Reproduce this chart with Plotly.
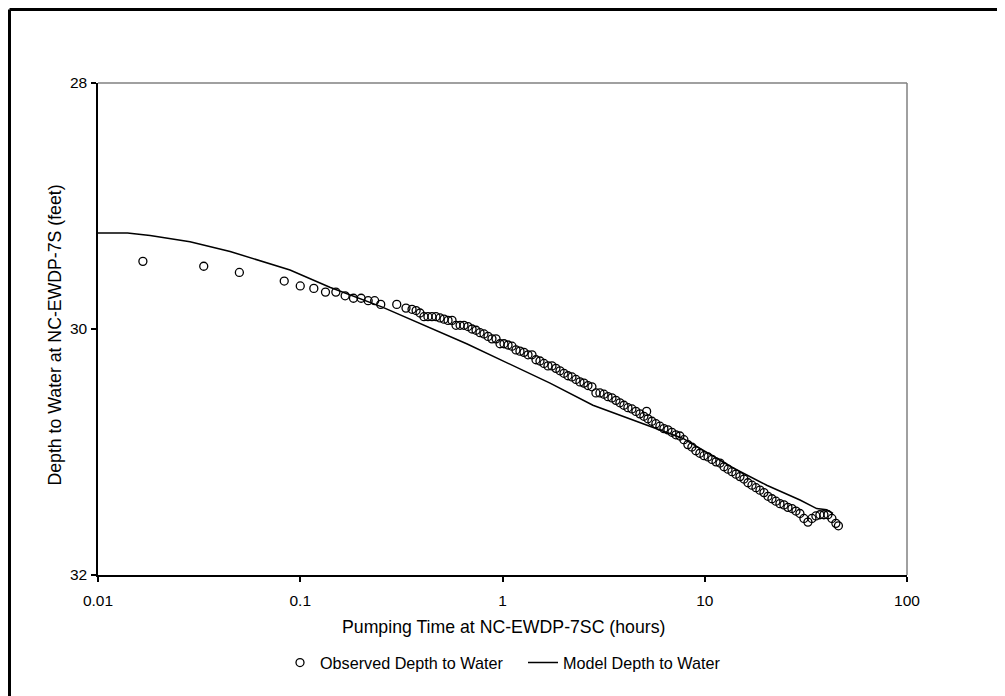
import plotly.graph_objects as go

# Observed depth to water (hours, feet)
obs_time = [0.01667, 0.03333, 0.05, 0.08333, 0.1, 0.1167, 0.1333, 0.15, 0.1667, 0.1833,
            0.2, 0.2167, 0.2333, 0.25, 0.3, 0.3333,
            0.357, 0.374, 0.391, 0.409, 0.428, 0.448, 0.469, 0.491, 0.514, 0.538,
            0.563, 0.589, 0.617, 0.645, 0.675, 0.707, 0.740, 0.774, 0.810, 0.848,
            0.887, 0.929, 0.972, 1.017, 1.065, 1.114, 1.166, 1.220, 1.277, 1.337,
            1.399, 1.464, 1.532, 1.604, 1.678, 1.756, 1.838, 1.924, 2.013, 2.107,
            2.205, 2.308, 2.415, 2.528, 2.645, 2.768, 2.897, 3.032, 3.173, 3.321,
            3.476, 3.638, 3.807, 3.984, 4.170, 4.364, 4.567, 4.780, 5.002, 5.16, 5.235,
            5.479, 5.734, 6.001, 6.280, 6.573, 6.879, 7.199, 7.534, 7.885, 8.252,
            8.636, 9.038, 9.459, 9.915, 10.38, 10.86, 11.37, 11.90, 12.45, 13.03,
            13.64, 14.27, 14.93, 15.63, 16.36, 17.12, 17.92, 18.75, 19.62, 20.54,
            21.49, 22.49, 23.54, 24.64, 25.78, 26.98, 28.24, 29.55, 30.93, 32.37,
            33.88, 35.45, 37.10, 38.83, 40.64, 42.53, 44.51, 45.8]
obs_depth = [29.45, 29.49, 29.54, 29.61, 29.65, 29.67, 29.70, 29.70, 29.73, 29.75,
             29.75, 29.77, 29.77, 29.80, 29.80, 29.83,
             29.84, 29.85, 29.87, 29.90, 29.90, 29.90, 29.90, 29.91, 29.92, 29.93,
             29.93, 29.97, 29.97, 29.97, 29.98, 30.00, 30.01, 30.03, 30.04, 30.06,
             30.08, 30.08, 30.12, 30.12, 30.13, 30.14, 30.17, 30.18, 30.19, 30.21,
             30.21, 30.25, 30.26, 30.28, 30.30, 30.30, 30.32, 30.34, 30.36, 30.38,
             30.39, 30.41, 30.43, 30.44, 30.46, 30.47, 30.52, 30.52, 30.53, 30.55,
             30.56, 30.58, 30.60, 30.62, 30.64, 30.65, 30.67, 30.69, 30.71, 30.67, 30.73,
             30.75, 30.77, 30.79, 30.81, 30.82, 30.84, 30.86, 30.87, 30.90, 30.94,
             30.96, 30.99, 31.01, 31.03, 31.04, 31.06, 31.08, 31.09, 31.12, 31.14,
             31.16, 31.18, 31.20, 31.22, 31.25, 31.27, 31.29, 31.31, 31.33, 31.36,
             31.38, 31.40, 31.42, 31.43, 31.45, 31.46, 31.48, 31.50, 31.54, 31.57,
             31.54, 31.52, 31.51, 31.51, 31.51, 31.54, 31.58, 31.60]

# Model depth to water
model_time = [0.01, 0.014, 0.0181, 0.0285, 0.045, 0.089, 0.140, 0.253, 0.665, 1.0,
              1.718, 2.80, 5.18, 7.81, 13.84, 20.25, 29.58, 35.77, 40.09, 43.06]
model_depth = [29.22, 29.22, 29.24, 29.29, 29.37, 29.52, 29.66, 29.82, 30.12, 30.26,
               30.44, 30.62, 30.78, 30.89, 31.13, 31.27, 31.39, 31.46, 31.47, 31.50]

x_ticks = [0.01, 0.1, 1, 10, 100]
x_tick_labels = ["0.01", "0.1", "1", "10", "100"]
y_ticks = [28, 30, 32]

FONT = "Liberation Sans, Arial, sans-serif"

fig = go.Figure()
fig.add_trace(go.Scatter(
    x=obs_time, y=obs_depth, mode="markers", name="Observed Depth to Water",
    marker=dict(symbol="circle-open", size=8, color="black", line=dict(width=1.3, color="black")),
))
fig.add_trace(go.Scatter(
    x=model_time, y=model_depth, mode="lines", name="Model Depth to Water",
    line=dict(color="black", width=1.5),
))

# page has an 8px body margin; figure coordinates = screen - 8
W, H = 997, 688
L, T = 90, 75
R = W - 899
B = H - 567
pw, ph = W - L - R, H - T - B


def px_x(p):
    return (p - L) / pw


def px_y(p):
    return (H - B - p) / ph


shapes = [
    dict(type="line", xref="paper", yref="paper", x0=0, x1=1, y0=1, y1=1,
         line=dict(color="#808080", width=1.5)),
    dict(type="line", xref="paper", yref="paper", x0=1, x1=1, y0=0, y1=1,
         line=dict(color="#808080", width=1.5)),
    dict(type="line", xref="paper", yref="paper", x0=px_x(1.5), x1=px_x(W + 5), y0=px_y(1.5), y1=px_y(1.5),
         line=dict(color="black", width=3)),
    dict(type="line", xref="paper", yref="paper", x0=px_x(1.5), x1=px_x(1.5), y0=px_y(1.5), y1=px_y(H + 5),
         line=dict(color="black", width=3)),
]

annotations = [
    dict(text="Depth to Water at NC-EWDP-7S (feet)", xref="paper", yref="paper",
         x=px_x(46), y=px_y(327.5), xanchor="center", yanchor="middle", textangle=-90,
         showarrow=False, font=dict(family=FONT, size=17.7, color="black")),
    dict(text="Pumping Time at NC-EWDP-7SC (hours)", xref="paper", yref="paper",
         x=px_x(496), y=px_y(619), xanchor="center", yanchor="middle",
         showarrow=False, font=dict(family=FONT, size=17.7, color="black")),
]

fig.update_layout(
    width=W, height=H,
    margin=dict(l=L, r=R, t=T, b=B, pad=0),
    paper_bgcolor="white", plot_bgcolor="white",
    font=dict(family=FONT, size=15.5, color="black"),
    showlegend=True,
    legend=dict(orientation="h", x=px_x(272), xanchor="left", y=px_y(655), yanchor="middle",
                font=dict(family=FONT, size=16.2, color="black"),
                bgcolor="rgba(0,0,0,0)", itemwidth=30,
                entrywidth=198, entrywidthmode="pixels"),
    shapes=shapes,
    annotations=annotations,
    xaxis=dict(
        type="log", range=[-2, 2], tickvals=x_ticks, ticktext=x_tick_labels,
        showgrid=False, zeroline=False, showline=True, linecolor="black", linewidth=1.5,
        ticks="outside", ticklen=5, tickcolor="black", tickwidth=1.5,
        ticklabelstandoff=6,
        tickfont=dict(family=FONT, size=15.5, color="black"),
    ),
    yaxis=dict(
        range=[32, 28], tickvals=y_ticks,
        showgrid=False, zeroline=False, showline=True, linecolor="black", linewidth=1.5,
        ticks="outside", ticklen=5, tickcolor="black", tickwidth=1.5,
        ticklabelstandoff=1,
        tickfont=dict(family=FONT, size=15.5, color="black"),
    ),
)

fig.write_html("out.html")
